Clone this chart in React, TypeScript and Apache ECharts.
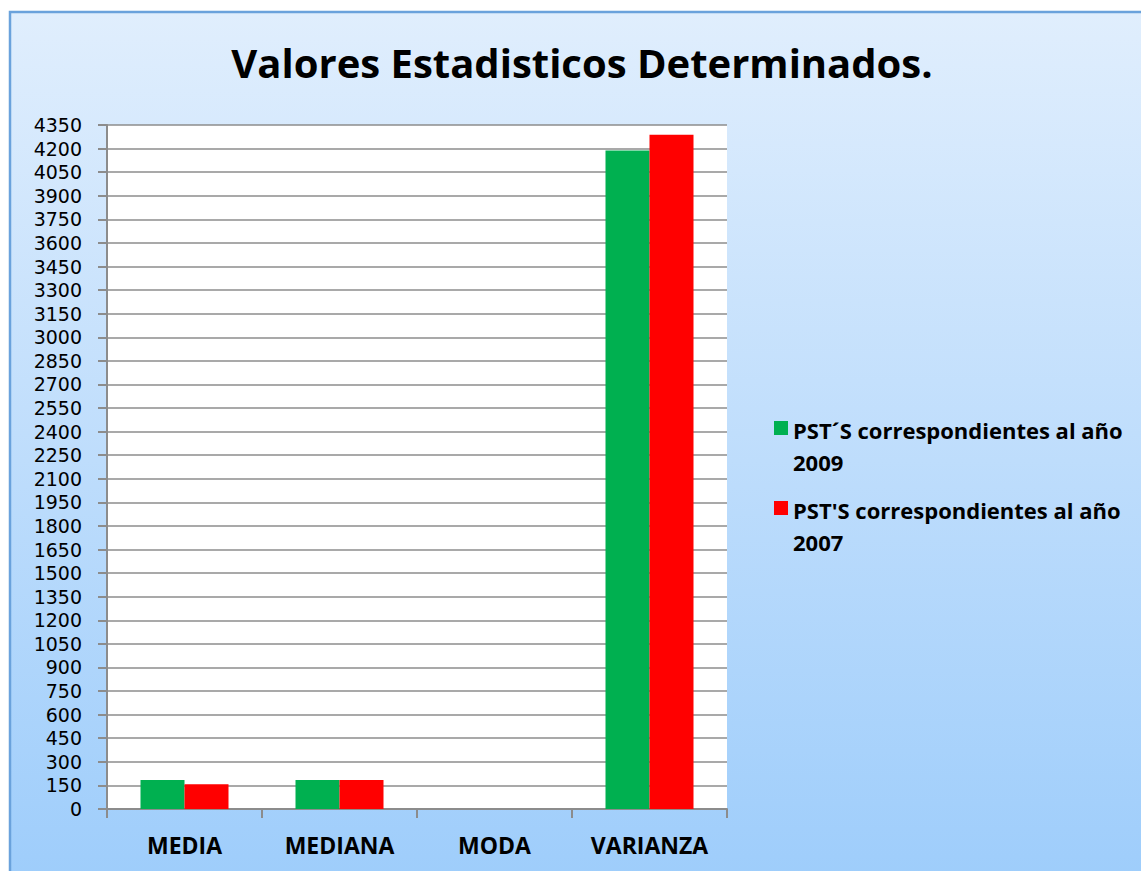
import React, { useEffect, useRef } from "react";
import * as echarts from "echarts";

const categories = ["MEDIA", "MEDIANA", "MODA", "VARIANZA"];
const seriesNames = ["PST´S correspondientes al año\n2009", "PST'S correspondientes al año\n2007"];
const values2009 = [184, 184, 0, 4188];
const values2007 = [158, 184, 0, 4288];
const colors = ["#00b050", "#ff0000"];

const legendIcon = "path://M0,0h14v14h-14z M0,49.9h0.01v0.1h-0.01z";

export default function App() {
  const ref = useRef<HTMLDivElement>(null);
  useEffect(() => {
    if (!ref.current) return;
    const chart = echarts.init(ref.current, null, { renderer: "svg" });
    chart.setOption({
      animation: false,
      backgroundColor: "#ffffff",
      title: {
        text: "Valores Estadisticos Determinados.",
        left: 577,
        top: 37,
        textAlign: "center",
        textStyle: {
          fontFamily: "Open Sans",
          fontWeight: "bold",
          fontSize: 40,
          color: "#000000",
        },
      },
      graphic: [
        {
          type: "rect",
          z: -10,
          silent: true,
          shape: { x: 10, y: 12, width: 1140, height: 870 },
          style: {
            fill: new echarts.graphic.LinearGradient(0, 0, 0, 1, [
              { offset: 0, color: "#e0eefd" },
              { offset: 1, color: "#9ecdfb" },
            ]),
            stroke: "#6aa2dc",
            lineWidth: 2.5,
          },
        },
      ],
      legend: {
        orient: "vertical",
        left: 769,
        top: 409,
        itemGap: 16,
        itemWidth: 14,
        itemHeight: 50,
        icon: legendIcon,
        textStyle: {
          fontFamily: "Open Sans",
          fontWeight: "bold",
          fontSize: 22,
          lineHeight: 32,
          color: "#000000",
          padding: [0, 0, 0, 0],
        },
        data: seriesNames,
      },
      grid: {
        left: 107,
        right: 414,
        top: 125,
        bottom: 62,
        show: true,
        backgroundColor: "#ffffff",
        borderWidth: 0,
      },
      xAxis: {
        type: "category",
        data: categories,
        axisLine: { lineStyle: { color: "#8c8c8c", width: 2 } },
        axisTick: { show: true, length: 9, lineStyle: { color: "#8c8c8c", width: 2 } },
        axisLabel: {
          fontFamily: "Open Sans",
          fontWeight: "bold",
          fontSize: 23,
          color: "#000000",
          margin: 24,
        },
      },
      yAxis: {
        type: "value",
        min: 0,
        max: 4350,
        interval: 150,
        axisLine: { show: true, lineStyle: { color: "#8c8c8c", width: 2 } },
        axisTick: { show: true, length: 9, lineStyle: { color: "#8c8c8c", width: 2 } },
        splitLine: { lineStyle: { color: "#8c8c8c", width: 1.5 } },
        axisLabel: {
          fontFamily: "DejaVu Sans",
          fontSize: 19,
          lineHeight: 19,
          color: "#000000",
          margin: 25,
          formatter: (v: number) => String(v),
        },
      },
      series: [
        {
          name: seriesNames[0],
          type: "bar",
          data: values2009,
          barWidth: 44,
          barGap: "0%",
          itemStyle: { color: colors[0] },
        },
        {
          name: seriesNames[1],
          type: "bar",
          data: values2007,
          barWidth: 44,
          barGap: "0%",
          itemStyle: { color: colors[1] },
        },
      ],
    });
    return () => chart.dispose();
  }, []);
  return (
    <div
      ref={ref}
      style={{ position: "fixed", left: 0, top: 0, width: 1141, height: 871 }}
    />
  );
}
